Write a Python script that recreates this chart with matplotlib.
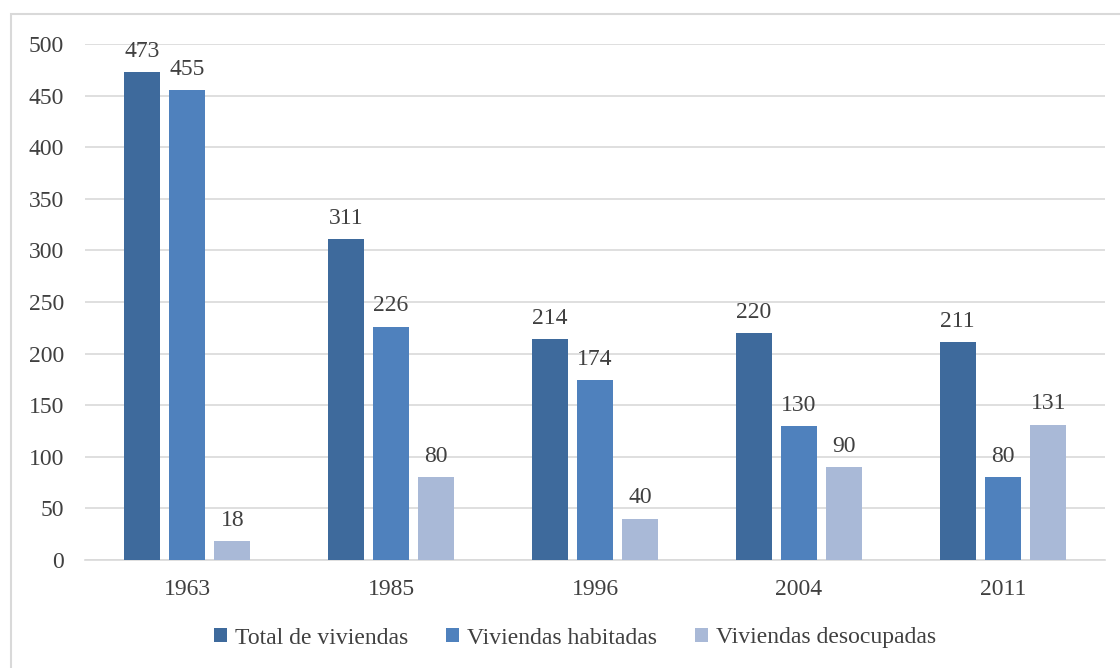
import matplotlib
matplotlib.use("Agg")
import matplotlib.pyplot as plt
import numpy as np
from matplotlib.patches import Rectangle

plt.rcParams['font.family'] = ['Liberation Serif', 'DejaVu Serif']

years = ['1963', '1985', '1996', '2004', '2011']
total = [473, 311, 214, 220, 211]
habitadas = [455, 226, 174, 130, 80]
desocupadas = [18, 80, 40, 90, 131]
series_names = ['Total de viviendas', 'Viviendas habitadas', 'Viviendas desocupadas']
colors = ['#3E6A9C', '#4F81BD', '#A9B9D7']

fig = plt.figure(figsize=(11.2, 6.68), dpi=100)
ax = fig.add_axes([85 / 1120, 108 / 668, 1020 / 1120, 516 / 668])

# outer frame (top and left edges visible, the rest runs off the canvas)
fig.patches.append(Rectangle((10.5 / 1120, -0.1), 1.2, (668 - 14.5) / 668 + 0.1,
                             transform=fig.transFigure, fill=False,
                             edgecolor='#d9d9d9', linewidth=1.5))

x = np.arange(len(years))
width = 0.177
step = 0.222
for i, (vals, name, c) in enumerate(zip([total, habitadas, desocupadas], series_names, colors)):
    pos = x + (i - 1) * step
    bars = ax.bar(pos, vals, width, color=c, label=name, zorder=3)
    for b, v in zip(bars, vals):
        ax.text(b.get_x() + b.get_width() / 2, v + 10, str(v),
                ha='center', va='bottom', fontsize=17, color='#404040')

ax.set_xlim(-0.5, 4.5)
ax.set_ylim(0, 500)
ax.set_yticks(range(0, 501, 50))
ax.set_xticks(x)
ax.set_xticklabels(years)
ax.grid(axis='y', color='#d9d9d9', linewidth=1.2, zorder=0)
for s in ['top', 'right', 'left']:
    ax.spines[s].set_visible(False)
ax.spines['bottom'].set_color('#d9d9d9')
ax.spines['bottom'].set_linewidth(1.2)
ax.tick_params(axis='both', length=0, labelsize=17, colors='#404040')
ax.tick_params(axis='x', pad=14)
ax.tick_params(axis='y', pad=15)

fig.legend(loc='center', bbox_to_anchor=(575 / 1120, 1 - 638 / 668), ncol=3,
           frameon=False, fontsize=17, handlelength=0.55, handleheight=0.55,
           handletextpad=0.35, columnspacing=1.6, labelcolor='#404040')

fig.savefig('out.png', dpi=100)
